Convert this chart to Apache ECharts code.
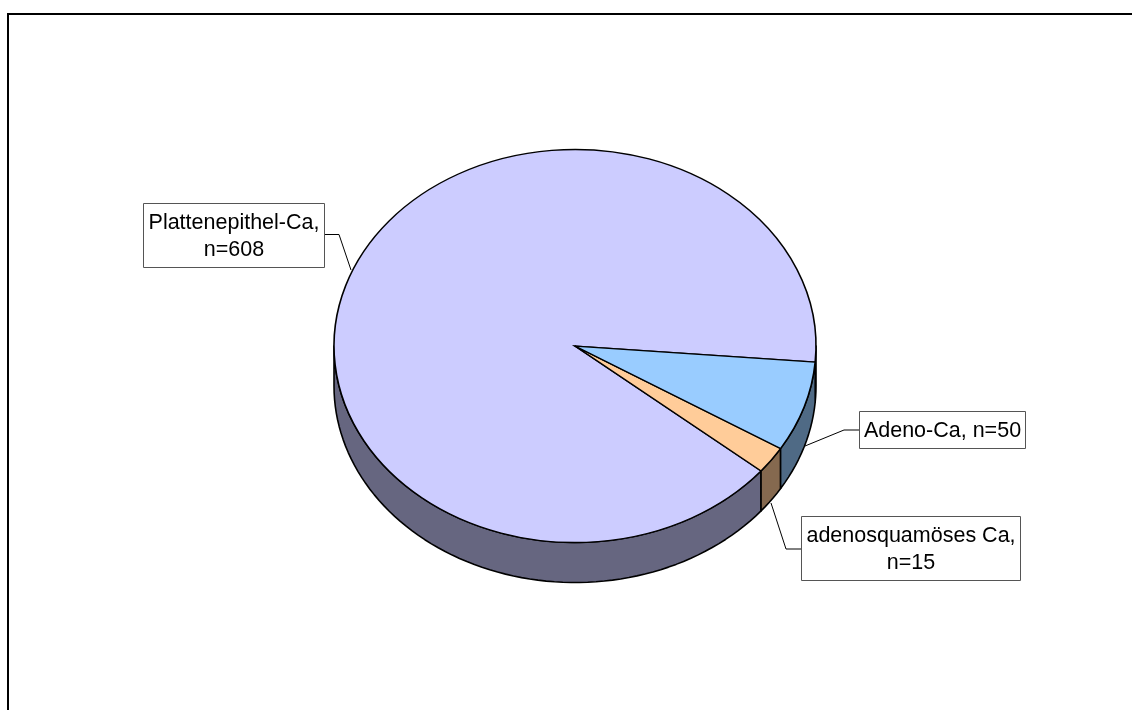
<!DOCTYPE html>
<html>
<head>
<meta charset="utf-8">
<style>html,body{margin:0;padding:0;background:#fff}#chart{width:1132px;height:710px}</style>
<script src="https://cdn.jsdelivr.net/npm/echarts@6/dist/echarts.min.js"></script>
</head>
<body>
<div id="chart"></div>
<script>
// Histological types, in drawing order clockwise from the right-hand edge of the pie
const categories = ['Adeno-Ca', 'adenosquamöses Ca', 'Plattenepithel-Ca'];
const counts = [50, 15, 608];
const topColors = ['#99ccff', '#ffcc99', '#ccccff'];
const wallColors = ['#4f6a85', '#85694f', '#666680'];
const labelLines = [['Adeno-Ca, n=50'], ['adenosquamöses Ca,', 'n=15'], ['Plattenepithel-Ca,', 'n=608']];

// Label box geometry: x, y, width, height, then the leader polyline
const labelBoxes = [
  { x: 859, y: 411, w: 166, h: 37, line: [[859, 430], [844, 430], [805, 446]] },
  { x: 801, y: 516, w: 219, h: 64, line: [[801, 549], [786, 549], [771, 503]] },
  { x: 143, y: 203, w: 181, h: 64, line: [[324, 234.5], [339, 234.5], [351, 270]] }
];

const CX = 575, CY = 346, RX = 241, RY = 196.5, DEPTH = 40, START_DEG = 4.7;
const total = counts.reduce((a, b) => a + b, 0);
const toRad = d => d * Math.PI / 180;

function ellipsePoint(deg, dy) {
  return [CX + RX * Math.cos(toRad(deg)), CY + (dy || 0) + RY * Math.sin(toRad(deg))];
}

// Angular span of slice i, measured clockwise on screen
function sliceSpan(i) {
  let from = START_DEG;
  for (let k = 0; k < i; k++) from += counts[k] / total * 360;
  return [from, from + counts[i] / total * 360];
}

// The part of a slice's rim that faces the viewer (0..180 deg, also 360..540 after wrapping)
function wallRange(a0, a1) {
  const ranges = [];
  [[0, 180], [360, 540]].forEach(([lo, hi]) => {
    const s = Math.max(a0, lo), e = Math.min(a1, hi);
    if (e > s) ranges.push([s, e]);
  });
  return ranges;
}

function wallPath(s, e) {
  const pts = [];
  const n = Math.max(2, Math.ceil((e - s) / 2));
  for (let i = 0; i <= n; i++) pts.push(ellipsePoint(s + (e - s) * i / n));
  for (let i = n; i >= 0; i--) pts.push(ellipsePoint(s + (e - s) * i / n, DEPTH));
  return pts;
}

function renderSlice(params, api) {
  const i = params.dataIndex;
  const [a0, a1] = sliceSpan(i);
  const children = [];
  wallRange(a0, a1).forEach(([s, e]) => {
    children.push({
      type: 'polygon',
      shape: { points: wallPath(s, e) },
      style: { fill: wallColors[i], stroke: '#000', lineWidth: 1.6, lineJoin: 'round' }
    });
  });
  children.push({
    type: 'sector',
    x: CX, y: CY, scaleY: RY / RX,
    shape: { cx: 0, cy: 0, r0: 0, r: RX, startAngle: toRad(a0), endAngle: toRad(a1), clockwise: true },
    style: { fill: topColors[i], stroke: '#000', lineWidth: 1.6, strokeNoScale: true }
  });
  return { type: 'group', children };
}

function renderLabel(params) {
  const i = params.dataIndex, b = labelBoxes[i];
  return {
    type: 'group',
    children: [
      { type: 'polyline', shape: { points: b.line }, style: { stroke: '#000', fill: null, lineWidth: 1 } },
      { type: 'rect', shape: { x: b.x + 0.5, y: b.y + 0.5, width: b.w, height: b.h },
        style: { fill: '#fff', stroke: '#555', lineWidth: 1 } },
      { type: 'text', x: b.x + b.w / 2 + 0.5, y: b.y + b.h / 2 + 2,
        style: { text: labelLines[i].join('\n'), font: '21.5px "Liberation Sans", Arial, sans-serif',
          lineHeight: 27, fill: '#000', align: 'center', verticalAlign: 'middle' } }
    ]
  };
}

const chart = echarts.init(document.getElementById('chart'), null, { renderer: 'canvas' });
const rows = categories.map((c, i) => [c, counts[i]]);

chart.setOption({
  animation: false,
  backgroundColor: '#fff',
  graphic: [{
    type: 'polyline',
    shape: { points: [[8, 720], [8, 14], [1140, 14]] },
    style: { stroke: '#000', lineWidth: 2, fill: null }
  }],
  series: [
    // Back-to-front: the large slice first so its neighbours' walls stay visible
    { type: 'custom', coordinateSystem: 'none', silent: true, z: 2,
      data: [rows[2], rows[1], rows[0]].map((r, k) => ({ value: r, idx: 2 - k })),
      renderItem: (p, api) => renderSlice({ dataIndex: 2 - p.dataIndex }, api) },
    { type: 'custom', coordinateSystem: 'none', silent: true, z: 3,
      data: rows, renderItem: renderLabel }
  ]
});
</script>
</body>
</html>
